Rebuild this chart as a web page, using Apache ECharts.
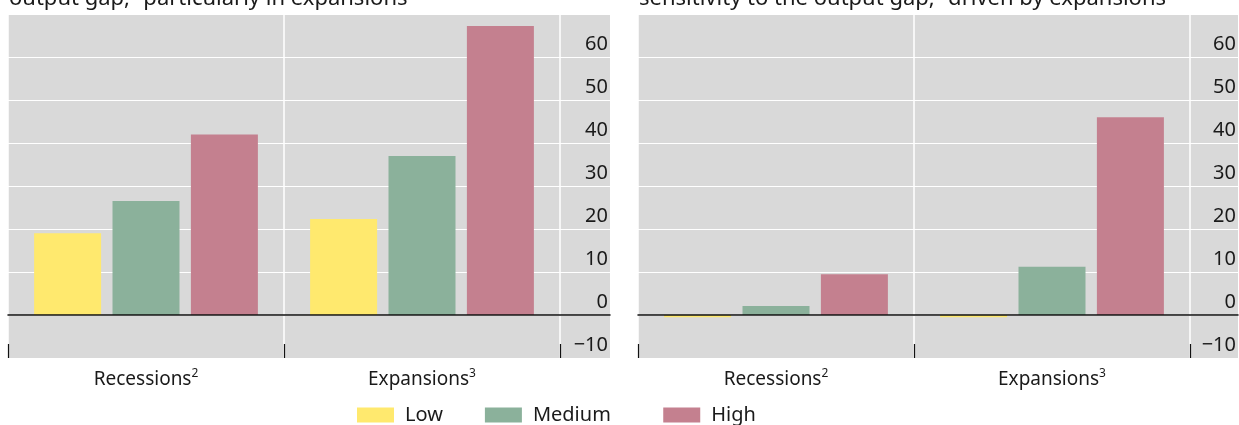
<!DOCTYPE html>
<html><head><meta charset="utf-8">
<script src="https://cdn.jsdelivr.net/npm/echarts@6/dist/echarts.min.js"></script>
<style>html,body{margin:0;padding:0;background:#fff}#c{width:1239px;height:425px}</style>
</head><body><div id="c"></div>
<script>
const categories = ['Recessions', 'Expansions'];
const categorySups = ['2', '3'];
const seriesNames = ['Low', 'Medium', 'High'];
const leftLow = [19, 22.3];
const leftMedium = [26.5, 37];
const leftHigh = [42, 67.2];
const rightLow = [-0.5, -0.5];
const rightMedium = [2.1, 11.2];
const rightHigh = [9.5, 46];
const yMin = -10, yMax = 70, yInterval = 10;
const titles = ['output gap,\u00b9 particularly in expansions', 'sensitivity to the output gap,\u00b9 driven by expansions'];
const colors = ['#ffe96e', '#8bb19b', '#c4808f'];

const FONT = 'Noto Sans';
const TXT = '#1a1a1a';
const panels = [
  {left: 8, full: 602, plot: 552, data: [leftLow, leftMedium, leftHigh]},
  {left: 638, full: 601, plot: 552, data: [rightLow, rightMedium, rightHigh]}
];
const grids = [], xAxes = [], yAxes = [], series = [];
panels.forEach((p, i) => {
  grids.push({left: p.left, top: 14, width: p.full, height: 344, show: true, backgroundColor: '#d9d9d9', borderWidth: 0});
  grids.push({left: p.left, top: 14, width: p.plot, height: 344, show: false});
  const ga = 2 * i, gb = 2 * i + 1;
  xAxes.push({gridIndex: ga, type: 'category', data: [''], z: 5,
    axisLine: {show: true, onZero: true, lineStyle: {color: '#111', width: 1.5}},
    axisTick: {show: false}, axisLabel: {show: false}, splitLine: {show: false}});
  xAxes.push({gridIndex: gb, type: 'category', data: categories, position: 'bottom',
    axisLine: {show: false, onZero: false},
    axisTick: {show: true, inside: true, length: 14, lineStyle: {color: '#111', width: 1.2}},
    splitLine: {show: true, lineStyle: {color: '#ffffff', width: 1.5}},
    axisLabel: {margin: 10, fontFamily: FONT, fontSize: 19, color: TXT,
      formatter: (v, idx) => v + '{sup|' + categorySups[idx] + '}',
      rich: {sup: {fontSize: 12, fontFamily: FONT, color: TXT, verticalAlign: 'top', padding: [0, 0, 11, 0]}}}});
  yAxes.push({gridIndex: ga, type: 'value', min: yMin, max: yMax, interval: yInterval, position: 'right',
    axisLine: {show: false}, axisTick: {show: false},
    splitLine: {show: true, lineStyle: {color: '#ffffff', width: 1.2}},
    axisLabel: {inside: true, margin: 2, align: 'right', verticalAlign: 'bottom', padding: [0, 0, 3, 0],
      fontFamily: FONT, fontSize: 20, color: TXT,
      formatter: v => v === yMax ? '' : (v < 0 ? '\u2212' + Math.abs(v) : String(v))}});
  yAxes.push({gridIndex: gb, type: 'value', min: yMin, max: yMax, interval: yInterval, show: false});
  p.data.forEach((d, k) => {
    series.push({name: seriesNames[k], type: 'bar', xAxisIndex: gb, yAxisIndex: gb, data: d,
      barWidth: 67, barGap: '17%', itemStyle: {color: colors[k]}, z: 2});
  });
});

const chart = echarts.init(document.getElementById('c'), null, {renderer: 'canvas'});
chart.setOption({
  animation: false,
  color: colors,
  title: titles.map((t, i) => ({text: t, left: panels[i].left - 4, top: -17,
    textStyle: {fontFamily: FONT, fontSize: 22, fontWeight: 'normal', color: TXT}})),
  grid: grids, xAxis: xAxes, yAxis: yAxes, series: series,
  legend: {data: seriesNames, left: 352, top: 400, icon: 'rect', itemWidth: 37, itemHeight: 15, itemGap: 42,
    formatter: name => name === 'Medium' ? name + '  ' : name,
    textStyle: {fontFamily: FONT, fontSize: 20, color: TXT, padding: [0, 0, 0, 6]}}
});
</script></body></html>
